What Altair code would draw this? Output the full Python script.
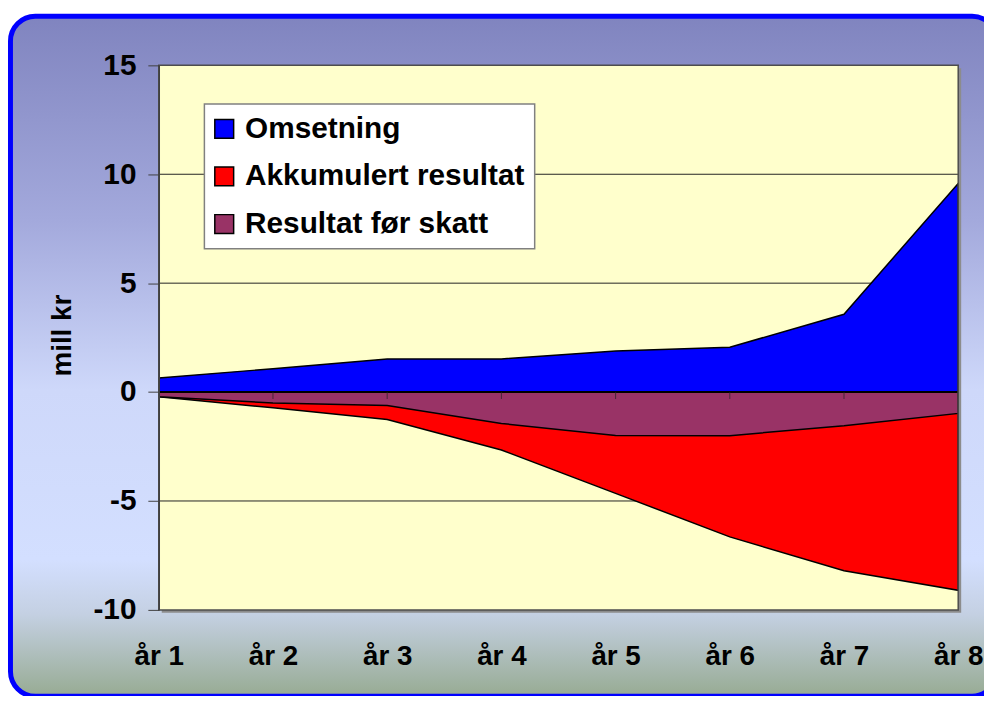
import altair as alt
import pandas as pd

# ---- data ----
years = ["år 1", "år 2", "år 3", "år 4", "år 5", "år 6", "år 7", "år 8"]
omsetning = [0.65, 1.07, 1.52, 1.52, 1.89, 2.06, 3.57, 9.58]
akkumulert = [-0.22, -0.72, -1.26, -2.66, -4.65, -6.65, -8.2, -9.1]
resultat = [-0.22, -0.5, -0.62, -1.44, -1.99, -2.0, -1.55, -0.98]
series_names = ["Omsetning", "Akkumulert resultat", "Resultat før skatt"]
series_colors = ["#0000FF", "#FF0000", "#993366"]
grid_values = [-5, 5, 10]
y_ticks = [-10, -5, 0, 5, 10, 15]

W, H = 806, 549
FONT = "Liberation Sans"

rows = []
for name, vals in zip(series_names, [omsetning, akkumulert, resultat]):
    for yr, v in zip(years, vals):
        rows.append({"year": yr, "value": v, "series": name})
df = pd.DataFrame(rows)
one = pd.DataFrame({"a": [0]})
grid_df = pd.DataFrame({"g": grid_values})
year_df = pd.DataFrame({"year": years})

x_axis = alt.Axis(
    zindex=1, labelFont=FONT, labelFontSize=28, labelFontWeight="bold",
    labelColor="black", labelAngle=0, labelBaseline="alphabetic",
    labelPadding=55, domain=False, ticks=False, tickSize=0, grid=False,
    title=None,
)
y_axis = alt.Axis(
    zindex=1, values=y_ticks, labelExpr="'' + datum.value",
    labelFont=FONT, labelFontSize=30,
    labelFontWeight="bold", labelColor="black", labelPadding=12, tickSize=11,
    tickColor="#404040", tickWidth=1, domain=True, domainColor="#404040",
    domainWidth=1.5, grid=False,
    title="mill kr", titleFont=FONT, titleFontSize=28, titleFontWeight="bold",
    titleColor="black", titleAngle=270, titleBaseline="alphabetic",
    titleX=-89, titleY=272, titleAlign="center",
)

xenc = alt.X("year:N", sort=years, axis=x_axis,
             scale=alt.Scale(type="point", padding=0))
yscale = alt.Scale(domain=[-10, 15], nice=False, zero=False)

gradient = alt.LinearGradient(
    gradient="linear", x1=0, x2=0, y1=0, y2=1,
    stops=[
        alt.GradientStop(color="#8084BF", offset=0),
        alt.GradientStop(color="#A3A9DC", offset=0.3),
        alt.GradientStop(color="#CED8FA", offset=0.55),
        alt.GradientStop(color="#D3DFFF", offset=0.8),
        alt.GradientStop(color="#C4D0E2", offset=0.88),
        alt.GradientStop(color="#97AB93", offset=1),
    ],
)

frame = alt.Chart(one).mark_rect(
    fill=gradient, stroke="#0000FF", strokeWidth=5, cornerRadius=25
).encode(x=alt.value(-149.5), x2=alt.value(845), y=alt.value(-49.5), y2=alt.value(636))

shadow = alt.Chart(one).mark_rect(fill="#8C8C8C").encode(
    x=alt.value(3), x2=alt.value(W + 3), y=alt.value(3), y2=alt.value(H + 3))

plotbg = alt.Chart(one).mark_rect(fill="#FFFFCC").encode(
    x=alt.value(0), x2=alt.value(W), y=alt.value(0), y2=alt.value(H))

grid = alt.Chart(grid_df).mark_rule(color="#222222", strokeWidth=1).encode(
    y=alt.Y("g:Q", scale=yscale, axis=y_axis),
    x=alt.value(0), x2=alt.value(W))

color = alt.Color(
    "series:N",
    scale=alt.Scale(domain=series_names, range=series_colors),
    legend=alt.Legend(
        title=None, orient="none", legendX=46, legendY=39,
        fillColor="white", strokeColor="#808080",
        padding=10, symbolType="square", symbolSize=361, symbolOffset=-5,
        symbolStrokeColor="black", symbolStrokeWidth=1.5,
        labelFont=FONT, labelFontSize=30, labelFontWeight="bold",
        labelColor="black", labelOffset=6, rowPadding=18,
        labelLimit=400,
    ),
)

def area_layer(name):
    return alt.Chart(df).transform_filter(
        alt.datum.series == name
    ).mark_area(stroke="black", strokeWidth=1.5, opacity=1).encode(
        x=xenc,
        y=alt.Y("value:Q", scale=yscale, stack=None, axis=y_axis),
        color=color,
    )

red = area_layer("Akkumulert resultat")
purple = area_layer("Resultat før skatt")
blue = area_layer("Omsetning")

zero = alt.Chart(one).mark_rule(color="black", strokeWidth=2).encode(
    y=alt.datum(0), x=alt.value(0), x2=alt.value(W))

ticks = alt.Chart(year_df).mark_tick(
    orient="vertical", color="#222222", size=7, thickness=1, yOffset=3.5
).encode(x=xenc, y=alt.datum(0))

border = alt.Chart(one).mark_rect(
    fillOpacity=0, stroke="#4D4D4D", strokeWidth=1.5
).encode(x=alt.value(0), x2=alt.value(W), y=alt.value(0), y2=alt.value(H))

chart = alt.layer(
    frame, shadow, plotbg, grid, red, purple, blue, zero, ticks, border
).properties(
    width=W, height=H,
    padding={"left": 152, "top": 55, "right": 26, "bottom": 84},
    autosize=alt.AutoSizeParams(type="none"),
    background="white",
).configure_view(
    stroke=None, fill=None
).configure_legend(
    strokeWidth=1.5
)

chart.save("out.html", embed_options={"renderer": "svg", "actions": False})
